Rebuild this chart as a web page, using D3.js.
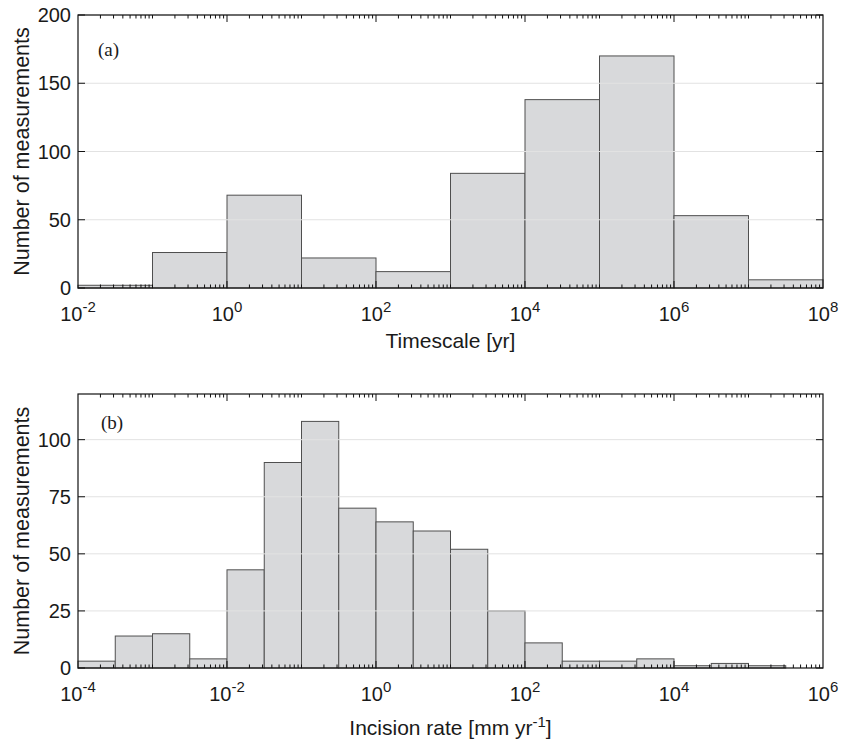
<!DOCTYPE html>
<html>
<head>
<meta charset="utf-8">
<script src="https://cdn.jsdelivr.net/npm/d3@7"></script>
<style>
  html, body { margin: 0; padding: 0; background: #fff; }
  svg { display: block; }
  text { font-family: "Liberation Sans", Arial, Helvetica, sans-serif; fill: #1a1a1a; }
  .panel-label { font-family: "Liberation Serif", "Times New Roman", serif; }
</style>
</head>
<body>
<svg id="chart" width="845" height="742"></svg>
<script>
// ---------------- DATA ----------------
// Panel (a): timescale histogram, bins one decade wide (edges as log10 exponents)
const timescaleEdgesExp = [-2, -1, 0, 1, 2, 3, 4, 5, 6, 7, 8];
const timescaleCounts   = [2, 26, 68, 22, 12, 84, 138, 170, 53, 6];
const timescaleTickExp  = [-2, 0, 2, 4, 6, 8];
const timescaleYTicks   = [0, 50, 100, 150, 200];

// Panel (b): incision rate histogram, bins half a decade wide
const incisionEdgesExp = [-4, -3.5, -3, -2.5, -2, -1.5, -1, -0.5, 0, 0.5, 1, 1.5, 2, 2.5, 3, 3.5, 4, 4.5, 5, 5.5];
const incisionCounts   = [3, 14, 15, 4, 43, 90, 108, 70, 64, 60, 52, 25, 11, 3, 3, 4, 1, 2, 1];
const incisionTickExp  = [-4, -2, 0, 2, 4, 6];
const incisionYTicks   = [0, 25, 50, 75, 100];

// ---------------- DRAW ----------------
const svg = d3.select("#chart");

function drawPanel(cfg) {
  const { top, bottom, left, right, xDomain, yDomain, edges, counts, tickExp, yTicks, xLabel, panelLabel, xLabelSup } = cfg;
  const x = d3.scaleLog().domain(xDomain).range([left, right]);
  const y = d3.scaleLinear().domain(yDomain).range([bottom, top]);
  const g = svg.append("g");

  const bins = counts.map((c, i) => ({ x0: Math.pow(10, edges[i]), x1: Math.pow(10, edges[i + 1]), c }));

  // bars
  g.selectAll("rect.bar").data(bins).enter().append("rect")
    .attr("class", "bar")
    .attr("x", d => x(d.x0))
    .attr("width", d => x(d.x1) - x(d.x0))
    .attr("y", d => y(d.c))
    .attr("height", d => y(0) - y(d.c))
    .attr("fill", "#d8d9db")
    .attr("stroke", "#4f4f4f")
    .attr("stroke-width", 1);

  // horizontal grid lines (faint)
  g.selectAll("line.grid").data(yTicks.filter(v => v > 0)).enter().append("line")
    .attr("x1", left).attr("x2", right)
    .attr("y1", d => y(d)).attr("y2", d => y(d))
    .attr("stroke", "#e2e2e2").attr("stroke-width", 1);

  // frame
  g.append("rect")
    .attr("x", left).attr("y", top)
    .attr("width", right - left).attr("height", bottom - top)
    .attr("fill", "none").attr("stroke", "#111").attr("stroke-width", 1.2);

  // x ticks (log): 1..9 multiples of every decade; major at labelled decades
  const e0 = Math.round(Math.log10(xDomain[0])), e1 = Math.round(Math.log10(xDomain[1]));
  const tickData = [];
  for (let e = e0; e < e1; e++) {
    for (let k = 1; k <= 9; k++) {
      const v = k * Math.pow(10, e);
      if (k === 1 && e === e0) continue;
      tickData.push({ v, major: k === 1 && tickExp.includes(e) });
    }
  }

  g.selectAll("line.xt-top").data(tickData).enter().append("line")
    .attr("x1", d => x(d.v)).attr("x2", d => x(d.v))
    .attr("y1", top).attr("y2", d => top + (d.major ? 7 : 3.5))
    .attr("stroke", "#111").attr("stroke-width", 1);
  g.selectAll("line.xt-bot").data(tickData).enter().append("line")
    .attr("x1", d => x(d.v)).attr("x2", d => x(d.v))
    .attr("y1", bottom).attr("y2", d => bottom - (d.major ? 7 : 3.5))
    .attr("stroke", "#111").attr("stroke-width", 1);

  // y ticks (left and right, inward)
  g.selectAll("line.yt-l").data(yTicks).enter().append("line")
    .attr("x1", left).attr("x2", left + 7)
    .attr("y1", d => y(d)).attr("y2", d => y(d))
    .attr("stroke", "#111").attr("stroke-width", 1);
  g.selectAll("line.yt-r").data(yTicks).enter().append("line")
    .attr("x1", right).attr("x2", right - 7)
    .attr("y1", d => y(d)).attr("y2", d => y(d))
    .attr("stroke", "#111").attr("stroke-width", 1);

  // y tick labels
  g.selectAll("text.ytl").data(yTicks).enter().append("text")
    .attr("x", left - 7).attr("y", d => y(d))
    .attr("dy", "0.36em")
    .attr("text-anchor", "end")
    .attr("font-size", 20)
    .text(d => d);

  // x tick labels 10^n
  const xl = g.selectAll("text.xtl").data(tickExp).enter().append("text")
    .attr("x", d => x(Math.pow(10, d)))
    .attr("y", bottom + 33)
    .attr("text-anchor", "middle")
    .attr("font-size", 20);
  xl.append("tspan").text("10");
  xl.append("tspan").attr("dy", -9).attr("font-size", 15).text(d => String(d));

  // axis titles
  const xt = g.append("text")
    .attr("x", (left + right) / 2).attr("y", cfg.xLabelY)
    .attr("text-anchor", "middle").attr("font-size", 21);
  xt.append("tspan").text(xLabel);
  if (xLabelSup) {
    xt.append("tspan").attr("dy", -8).attr("font-size", 15).text(xLabelSup);
    xt.append("tspan").attr("dy", 8).text("]");
  }

  g.append("text")
    .attr("transform", `translate(29,${(top + bottom) / 2}) rotate(-90)`)
    .attr("text-anchor", "middle").attr("font-size", 21.5)
    .text("Number of measurements");

  // panel label
  g.append("text").attr("class", "panel-label")
    .attr("x", cfg.labelX).attr("y", cfg.labelY)
    .attr("font-size", 19)
    .text(panelLabel);
}

drawPanel({
  top: 15, bottom: 288, left: 78, right: 823,
  xDomain: [1e-2, 1e8], yDomain: [0, 200],
  edges: timescaleEdgesExp, counts: timescaleCounts,
  tickExp: timescaleTickExp, yTicks: timescaleYTicks,
  xLabel: "Timescale [yr]", xLabelY: 348,
  panelLabel: "(a)", labelX: 98, labelY: 56
});

drawPanel({
  top: 394, bottom: 668, left: 78, right: 823,
  xDomain: [1e-4, 1e6], yDomain: [0, 120],
  edges: incisionEdgesExp, counts: incisionCounts,
  tickExp: incisionTickExp, yTicks: incisionYTicks,
  xLabel: "Incision rate [mm yr", xLabelSup: "-1", xLabelY: 735,
  panelLabel: "(b)", labelX: 101, labelY: 429
});
</script>
</body>
</html>
